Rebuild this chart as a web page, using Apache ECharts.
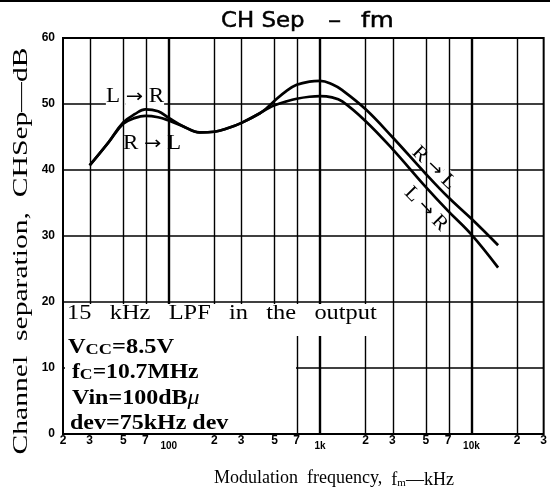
<!DOCTYPE html>
<html>
<head>
<meta charset="utf-8">
<script src="https://cdn.jsdelivr.net/npm/echarts@6/dist/echarts.min.js"></script>
<style>
  html, body { margin: 0; padding: 0; background: #fff; }
  #chart { width: 550px; height: 495px; }
</style>
</head>
<body>
<div id="chart"></div>
<script>
// Channel separation vs. modulation frequency (Hz -> dB)
const freqLR = [30, 40, 50, 60, 70, 85, 100, 125, 160, 200, 250, 300, 400, 450, 500, 600, 700, 850, 1000, 1200, 1400, 2000, 3000, 5000, 7000, 10000, 15000];
const sepLR  = [40.7, 44.2, 47.2, 48.5, 49.2, 48.9, 47.9, 46.6, 45.7, 45.8, 46.4, 47.1, 48.6, 49.3, 49.8, 50.4, 50.8, 51.1, 51.2, 51.0, 50.4, 47.4, 43.2, 37.4, 33.8, 30.2, 25.2];

const freqRL = [30, 40, 50, 60, 70, 85, 100, 125, 160, 200, 250, 300, 400, 450, 500, 600, 700, 850, 1000, 1200, 1400, 2000, 3000, 5000, 7000, 10000, 15000];
const sepRL  = [40.7, 44.2, 47.0, 47.9, 48.2, 48.0, 47.5, 46.6, 45.7, 45.8, 46.4, 47.1, 48.6, 49.5, 50.5, 52.0, 52.9, 53.4, 53.5, 53.0, 52.1, 49.2, 45.0, 39.4, 35.9, 32.6, 28.6];

// vertical rulings (Hz); decades drawn heavier
const gridFreqs = [30, 50, 70, 100, 200, 300, 500, 700, 1000, 2000, 3000, 5000, 7000, 10000, 20000];
const decadeFreqs = [100, 1000, 10000];

// frequency tick labels
const tickFreqs = [20, 30, 50, 70, 100, 200, 300, 500, 700, 1000, 2000, 3000, 5000, 7000, 10000, 20000, 30000];
const tickText  = ['2', '3', '5', '7', '100', '2', '3', '5', '7', '1k', '2', '3', '5', '7', '10k', '2', '3'];

const freqMin = 20, freqMax = 30000;
const sepMin = 0, sepMax = 60, sepStep = 10;

const lg = Math.log10;
const toPoints = (fs, vs) => fs.map((f, i) => [lg(f), vs[i]]);

const SERIF = '"Liberation Serif", "Times New Roman", serif';
const SANS = '"Liberation Sans", Arial, sans-serif';
const TITLE_FONT = '"DejaVu Sans", sans-serif';

const chart = echarts.init(document.getElementById('chart'), null, { renderer: 'canvas' });

function serifText(text, x, y, opts) {
  opts = opts || {};
  return {
    type: 'text',
    x: x, y: y,
    rotation: opts.rotation || 0,
    scaleX: opts.scaleX || 1,
    z: opts.z || 20,
    silent: true,
    style: {
      text: text,
      fontFamily: opts.fontFamily || SERIF,
      fontSize: opts.fontSize || 20,
      fontWeight: opts.fontWeight || 'normal',
      fill: '#000',
      stroke: opts.stroke ? '#000' : null,
      lineWidth: opts.stroke || 0,
      align: opts.align || 'left',
      textAlign: opts.align || 'left',
      verticalAlign: 'middle',
      textVerticalAlign: 'middle',
      backgroundColor: opts.bg || null,
      padding: opts.padding || 0,
      rich: opts.rich || undefined
    }
  };
}

const subRich = {
  m: { fontFamily: SERIF, fontSize: 20, fontWeight: 'bold', lineHeight: 22, verticalAlign: 'bottom' },
  s: { fontFamily: SERIF, fontSize: 15, fontWeight: 'bold', lineHeight: 12, verticalAlign: 'bottom' },
  g: { fontFamily: SERIF, fontSize: 20, fontStyle: 'italic', lineHeight: 22, verticalAlign: 'bottom' }
};

// direction labels: serif letters with a broad arrow
const arrowRich = {
  c: { fontFamily: SERIF, fontSize: 20, lineHeight: 22, backgroundColor: '#fff' },
  a: { fontFamily: TITLE_FONT, fontSize: 18, lineHeight: 22, backgroundColor: '#fff' }
};
const dirLabel = (from, to) => '{c|' + from + ' }{a|→}{c| ' + to + '}';

const option = {
  animation: false,
  grid: {
    left: 63, right: 3, top: 38, bottom: 61,
    show: true, borderColor: '#000', borderWidth: 2, backgroundColor: 'transparent'
  },
  xAxis: {
    type: 'value',
    min: lg(freqMin), max: lg(freqMax),
    axisLine: { show: false },
    axisTick: { show: false },
    splitLine: { show: false },
    axisLabel: {
      customValues: tickFreqs.map(lg),
      showMinLabel: true, showMaxLabel: true,
      margin: 1,
      formatter: function (val) {
        let i = 0, best = Infinity;
        tickFreqs.forEach((f, k) => { const d = Math.abs(lg(f) - val); if (d < best) { best = d; i = k; } });
        const t = tickText[i];
        return t.length > 1 ? '{d|' + t + '}' : '{n|' + t + '}';
      },
      rich: {
        n: { fontFamily: SANS, fontWeight: 'bold', fontSize: 12, color: '#000' },
        d: { fontFamily: SANS, fontWeight: 'bold', fontSize: 10, color: '#000', padding: [6, 0, 0, 0] }
      }
    }
  },
  yAxis: {
    type: 'value',
    min: sepMin, max: sepMax, interval: sepStep,
    axisLine: { show: false },
    axisTick: { show: false },
    splitLine: { show: true, lineStyle: { color: '#000', width: 1.5 } },
    axisLabel: { margin: 8, fontFamily: SANS, fontWeight: 'bold', fontSize: 12, color: '#000' }
  },
  series: [
    {
      name: 'rulings',
      type: 'line',
      data: [],
      z: 1,
      silent: true,
      markLine: {
        silent: true,
        symbol: ['none', 'none'],
        label: { show: false },
        animation: false,
        data: gridFreqs.map(f => ({
          xAxis: lg(f),
          lineStyle: { color: '#000', type: 'solid', width: decadeFreqs.includes(f) ? 2.4 : 1.4 }
        }))
      }
    },
    {
      name: 'L → R',
      type: 'line',
      data: toPoints(freqLR, sepLR),
      smooth: 0.4,
      symbol: 'none',
      z: 6,
      lineStyle: { color: '#000', width: 2.7 }
    },
    {
      name: 'R → L',
      type: 'line',
      data: toPoints(freqRL, sepRL),
      smooth: 0.4,
      symbol: 'none',
      z: 6,
      lineStyle: { color: '#000', width: 2.7 }
    }
  ],
  graphic: [
    { type: 'line', z: 30, shape: { x1: 0, y1: 1, x2: 550, y2: 1 }, style: { stroke: '#000', lineWidth: 2 } },
    // title
    serifText('CH Sep', 221, 21, { fontFamily: TITLE_FONT, fontSize: 22, scaleX: 1.04, stroke: 0.5 }),
    serifText('–', 328, 21, { fontFamily: TITLE_FONT, fontSize: 22, scaleX: 1.2, stroke: 0.5 }),
    serifText('fm', 361, 21, { fontFamily: TITLE_FONT, fontSize: 22, scaleX: 1.12, stroke: 0.5 }),
    // conditions panel
    { type: 'rect', z: 10, silent: true, shape: { x: 65, y: 304, width: 231, height: 129 }, style: { fill: '#fff' } },
    { type: 'rect', z: 10, silent: true, shape: { x: 65, y: 304, width: 308, height: 32 }, style: { fill: '#fff' } },
    serifText('15   kHz   LPF   in   the   output', 67, 314, { scaleX: 1.22 }),
    serifText('{m|V}{s|CC}{m|=8.5V}', 68, 347, { scaleX: 1.22, rich: subRich }),
    serifText('{m|f}{s|C}{m|=10.7MHz}', 72, 372, { scaleX: 1.18, rich: subRich }),
    serifText('{m|Vin=100dB}{g|μ}', 72, 398, { scaleX: 1.2, rich: subRich }),
    serifText('dev=75kHz dev', 70, 424, { scaleX: 1.2, fontWeight: 'bold' }),
    // curve labels
    serifText(dirLabel('L', 'R'), 135, 97, { align: 'center', scaleX: 1.15, z: 5, rich: arrowRich }),
    serifText(dirLabel('R', 'L'), 152, 144, { align: 'center', scaleX: 1.15, z: 5, rich: arrowRich }),
    serifText(dirLabel('R', 'L'), 434, 168, { align: 'center', rotation: -0.77, scaleX: 1.05, z: 5, rich: arrowRich }),
    serifText(dirLabel('L', 'R'), 426, 209, { align: 'center', rotation: -0.8, scaleX: 1.05, z: 5, rich: arrowRich }),
    // axis titles
    serifText('Modulation  frequency,  {m|f}{s|m}{m|—kHz}', 334, 478, { align: 'center', fontSize: 18, rich: {
      m: { fontFamily: SERIF, fontSize: 18, lineHeight: 22, verticalAlign: 'bottom' },
      s: { fontFamily: SERIF, fontSize: 11, lineHeight: 12, verticalAlign: 'bottom' } } }),
    serifText('Channel  separation,  CHSep—dB', 22, 251, { align: 'center', rotation: Math.PI / 2, scaleX: 1.48, fontSize: 20 })
  ]
};
chart.setOption(option);
</script>
</body>
</html>
